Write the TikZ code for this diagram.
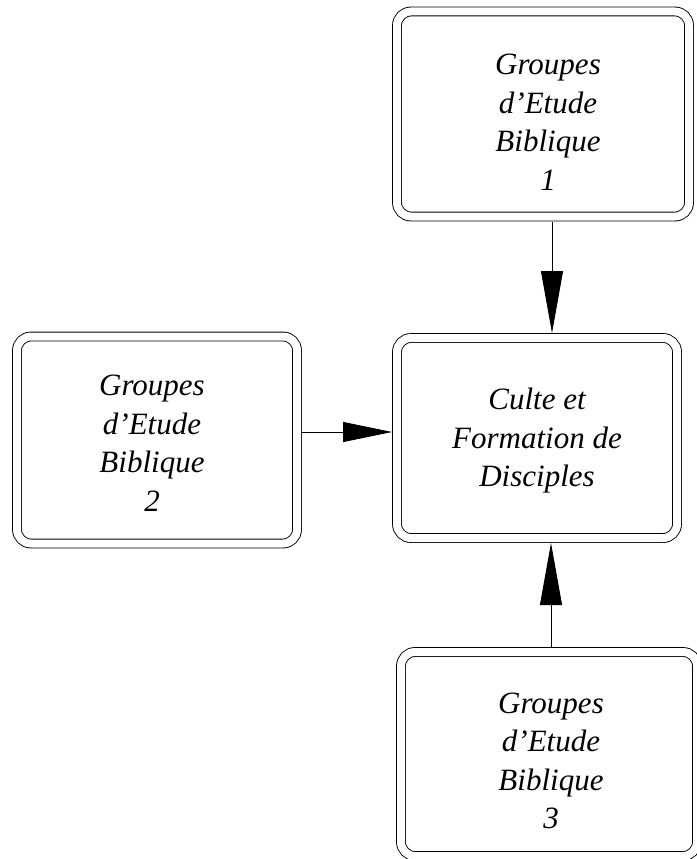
\documentclass[tikz,border=0pt]{standalone}
\usepackage{fontspec}
\setmainfont{Liberation Serif}
\usetikzlibrary{arrows.meta}

\begin{document}
\begin{tikzpicture}[x=1pt,y=-1pt]
        \useasboundingbox (0,0) rectangle (696,859);
        %
        \tikzset{BLOC/.style={draw, double, double distance=8pt, line width=0.9pt, rounded corners=14pt, inner sep=0pt, outer sep=5pt}}
        \tikzset{TEXTE/.style={align=center, inner sep=0pt, font=\fontsize{31}{38.5}\selectfont\itshape}}
        \tikzset{FLV/.style={line width=0.9pt, -{Triangle[length=62pt, width=22pt]}}}
        \tikzset{FLH/.style={line width=0.9pt, -{Triangle[length=49pt, width=20pt]}}}
        %
        \draw (543,114) node[BLOC, minimum width=292pt, minimum height=205pt](G1){};
        \draw (157,440) node[BLOC, minimum width=280pt, minimum height=207pt](G2){};
        \draw (537,438) node[BLOC, minimum width=280pt, minimum height=200pt](C){};
        \draw (549,754) node[BLOC, minimum width=296pt, minimum height=204pt](G3){};
        %
        \draw ([shift={(5,8)}]G1.center) node[TEXTE](T1){Groupes\\d’Etude\\Biblique\\1};
        \draw ([shift={(-5,3)}]G2.center) node[TEXTE](T2){Groupes\\d’Etude\\Biblique\\2};
        \draw ([shift={(0,3)}]C.center) node[TEXTE](TC){Culte et\\Formation de\\Disciples};
        \draw ([shift={(2,7)}]G3.center) node[TEXTE](T3){Groupes\\d’Etude\\Biblique\\3};
        %
        \draw[FLV] ([xshift=9pt]G1.south) -- ([xshift=15pt]C.north);
        \draw[FLH] ([yshift=8pt]G2.east) -- ([yshift=6pt]C.west);
        \draw[FLV] ([xshift=2pt]G3.north) -- ([xshift=14pt]C.south);
    \end{tikzpicture}
\end{document}
